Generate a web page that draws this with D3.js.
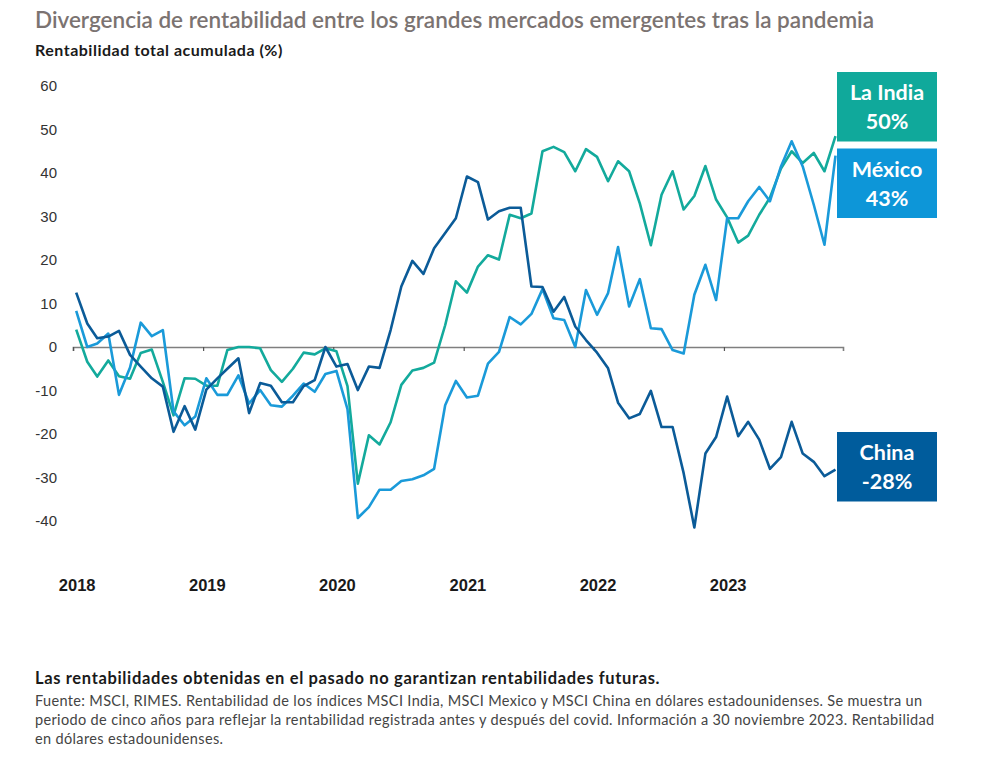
<!DOCTYPE html>
<html><head><meta charset="utf-8">
<script src="https://cdn.jsdelivr.net/npm/d3@7"></script>
<style>
body{margin:0;background:#fff;}
svg{display:block;}
</style></head>
<body><svg id="c" width="1006" height="765"></svg>
<script>
// ---- DATA ----
const startMonth = new Date(2018, 0, 1);
const months = d3.timeMonth.range(startMonth, new Date(2023, 11, 1)); // Jan 2018 .. Nov 2023 (71)
const yearTicks = ["2018", "2019", "2020", "2021", "2022", "2023"];
const yTicks = [60, 50, 40, 30, 20, 10, 0, -10, -20, -30, -40];

const india = [4, -3.4, -6.8, -3.1, -6.7, -7.3, -1.4, -0.6, -8, -15.7, -7.2, -7.3,
  -8.9, -8.9, -0.7, 0, 0, -0.3, -5.3, -8, -5, -1.3, -1.7, -0.3,
  -1, -9, -31.4, -20.3, -22.4, -17.3, -8.7, -5.4, -4.8, -3.6, 5, 15.1,
  12.5, 18.5, 21.1, 20.1, 30.4, 29.6, 30.7, 45, 46, 44.8, 40.4, 45.5,
  43.7, 38.1, 42.7, 40.4, 33, 23.4, 35, 40.4, 31.6, 34.7, 41.6, 33.9,
  29.8, 24, 25.6, 30.4, 34.3, 41, 45, 42.3, 44.6, 40.4, 48.5];
const mexico = [8.3, 0, 0.8, 3.1, -11, -4.7, 5.6, 2.5, 3.9, -14.8, -18, -16,
  -7.2, -11, -11, -6.5, -13, -9.9, -13.4, -13.7, -11.2, -8.4, -10.3, -6.2,
  -5.5, -14.3, -39.3, -36.8, -32.8, -32.8, -30.8, -30.4, -29.5, -28, -13.4, -7.8,
  -11.6, -11.2, -3.8, -1.1, 6.9, 5.2, 7.6, 13.3, 6.6, 6.2, 0, 13.1,
  7.4, 12.4, 23, 9.3, 15.6, 4.3, 4.1, -0.7, -1.5, 12, 18.9, 10.8,
  29.6, 29.6, 33.5, 36.8, 33.5, 41.5, 47.3, 41.5, 32.7, 23.5, 44];
const china = [12.5, 5.4, 2.0, 2.4, 3.7, -1.8, -4.5, -7.2, -9.1, -19.5, -13.6, -19,
  -9.8, -7.2, -5, -2.6, -15.2, -8.3, -8.9, -12.7, -12.7, -9, -7.6, 0,
  -4.5, -3.9, -9.9, -4.5, -4.8, 3.9, 13.9, 19.8, 16.8, 22.7, 26.2, 29.6,
  39.2, 37.9, 29.3, 31.2, 32, 32, 13.9, 13.8, 8.1, 11.5, 4.7, 1.6,
  -1.3, -4.9, -12.8, -16.4, -15.4, -10.1, -18.4, -18.4, -29, -41.5, -24.5, -20.7,
  -11.4, -20.5, -17.2, -21.3, -28, -25.3, -17.2, -24.5, -26.4, -29.7, -28.2];

const seriesNames = ["La India", "México", "China"];
const seriesLabels = ["50%", "43%", "-28%"];
const seriesValues = [india, mexico, china];
const seriesColors = ["#13aa9c", "#1a9ad9", "#0b5b98"];
const boxColors = ["#10a99b", "#0d96d8", "#005c9c"];

const title = "Divergencia de rentabilidad entre los grandes mercados emergentes tras la pandemia";
const subtitle = "Rentabilidad total acumulada (%)";
const noteBold = "Las rentabilidades obtenidas en el pasado no garantizan rentabilidades futuras.";
const noteLines = [
  "Fuente: MSCI, RIMES. Rentabilidad de los índices MSCI India, MSCI Mexico y MSCI China en dólares estadounidenses. Se muestra un",
  "periodo de cinco años para reflejar la rentabilidad registrada antes y después del covid. Información a 30 noviembre 2023. Rentabilidad",
  "en dólares estadounidenses."
];

// ---- CHART ----
const svg = d3.select("#c");
const x = d3.scaleTime().domain([startMonth, new Date(2023, 11, 1)]).range([73, 843]);
const y = d3.scaleLinear().domain([-40, 60]).range([521, 86]);
const pointDate = d => d3.timeDay.offset(d, 9);

svg.append("text").attr("x", 35).attr("y", 28)
  .attr("font-family", "Lato").attr("font-size", 22.5).attr("font-weight", 600)
  .attr("fill", "#7b7371").text(title);
svg.append("text").attr("x", 35).attr("y", 56)
  .attr("font-family", "Lato").attr("font-size", 16).attr("font-weight", 700)
  .attr("letter-spacing", 0.5)
  .attr("fill", "#1a1a1a").text(subtitle);

// y labels
svg.append("g").selectAll("text").data(yTicks).join("text")
  .attr("x", 57).attr("y", d => y(d)).attr("dy", "0.35em")
  .attr("text-anchor", "end")
  .attr("font-family", "Liberation Sans, Arial").attr("font-size", 15)
  .attr("fill", "#333").text(d => d);

// zero line with ticks
const xAxis = d3.axisBottom(x).ticks(d3.timeYear.every(1)).tickSize(4).tickFormat("");
const gx = svg.append("g").attr("transform", `translate(0,${y(0)})`).call(xAxis);
gx.select(".domain").attr("stroke", "#7f7f7f").attr("stroke-width", 1.6);
gx.selectAll(".tick line").attr("stroke", "#555").attr("stroke-width", 1.2);

// year labels
const years = d3.timeYear.range(startMonth, new Date(2024, 0, 1));
svg.append("g").selectAll("text").data(years).join("text")
  .attr("x", (d, i) => x(pointDate(d)) + 1).attr("y", 591)
  .attr("text-anchor", "middle")
  .attr("font-family", "Liberation Sans, Arial").attr("font-size", 16.5).attr("font-weight", 700)
  .attr("fill", "#1a1a1a").text((d, i) => yearTicks[i]);

// lines
const line = d3.line().x((v, i) => x(pointDate(months[i]))).y(v => y(v));
const order = [0, 1, 2];
svg.append("g").selectAll("path").data(order).join("path")
  .attr("d", k => line(seriesValues[k]))
  .attr("fill", "none").attr("stroke", k => seriesColors[k])
  .attr("stroke-width", 2.6).attr("stroke-linejoin", "round");

// label boxes
const boxTops = [72, 148.5, 432];
const boxG = svg.append("g").selectAll("g").data(order).join("g")
  .attr("transform", k => `translate(837,${boxTops[k]})`);
boxG.append("rect").attr("width", 100).attr("height", 69.5).attr("fill", k => boxColors[k]);
boxG.append("text").attr("x", 50).attr("y", 28).attr("text-anchor", "middle")
  .attr("font-family", "Lato").attr("font-size", 21.5).attr("font-weight", 700)
  .attr("fill", "#fff").text(k => seriesNames[k]);
boxG.append("text").attr("x", 50).attr("y", 57).attr("text-anchor", "middle")
  .attr("font-family", "Lato").attr("font-size", 21.5).attr("font-weight", 700)
  .attr("fill", "#fff").text(k => seriesLabels[k]);

// notes
svg.append("text").attr("x", 35).attr("y", 684)
  .attr("font-family", "Lato").attr("font-size", 16.5).attr("font-weight", 700)
  .attr("letter-spacing", 0.65)
  .attr("fill", "#1a1a1a").text(noteBold);
svg.append("g").selectAll("text").data(noteLines).join("text")
  .attr("x", 35).attr("y", (d, i) => 706 + i * 19)
  .attr("font-family", "Lato").attr("font-size", 14.5)
  .attr("letter-spacing", 0.35)
  .attr("fill", "#444").text(d => d);
</script></body></html>
